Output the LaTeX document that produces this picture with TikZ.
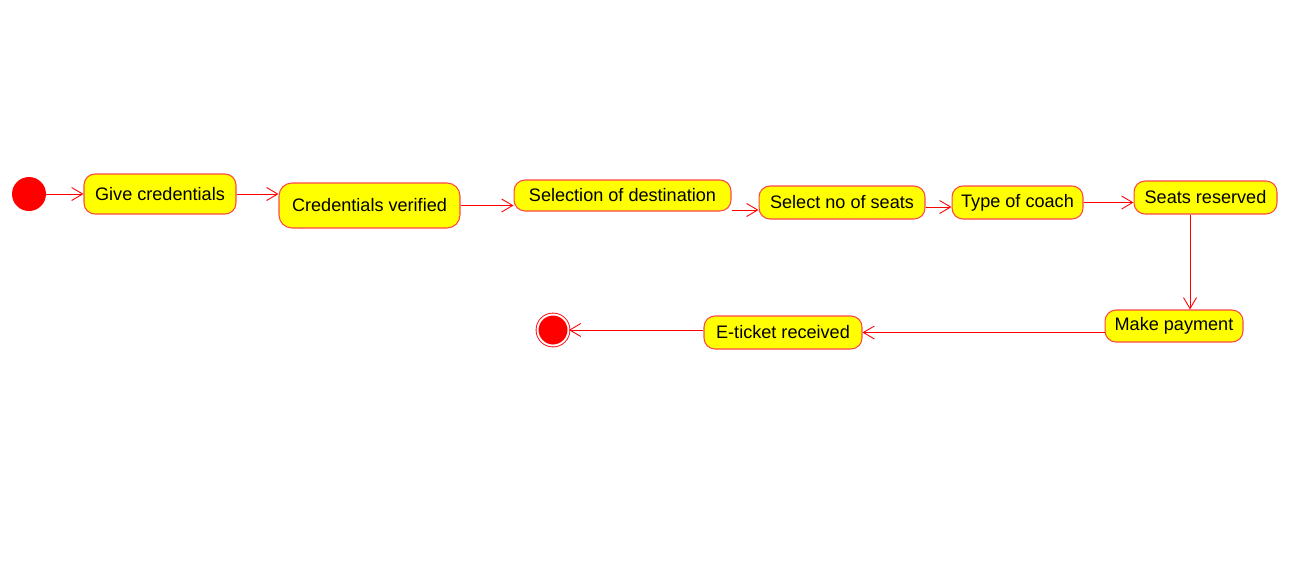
\documentclass[tikz,border=0pt]{standalone}
\usepackage{fontspec}
\setmainfont{Liberation Sans}
\usetikzlibrary{arrows.meta}
\definecolor{statefill}{RGB}{255,255,0}
\definecolor{stateline}{RGB}{255,70,70}
\tikzset{
  state/.style={draw=stateline, fill=statefill, line width=0.6pt, rounded corners=0.22cm,
    inner sep=0pt, font=\fontsize{10.3}{12}\selectfont},
  flow/.style={draw=red, line width=0.5pt, -{Straight Barb[length=0.22cm,width=0.26cm]}},
}
\begin{document}
\begin{tikzpicture}[x=0.02cm,y=-0.02cm]
\useasboundingbox (0,0) rectangle (1311,562);
% states
\node[circle, fill=red, minimum size=0.68cm, inner sep=0pt] (start) at (29,194) {};
\node[state, minimum width=3.04cm, minimum height=0.8cm] (give) at (160,194) {Give credentials};
\node[state, minimum width=3.62cm, minimum height=0.9cm, rounded corners=0.26cm] (verified) at (369.5,205.5) {Credentials verified};
\node[state, minimum width=4.34cm, minimum height=0.62cm] (dest) at (622.5,195.5) {Selection of destination};
\node[state, minimum width=3.32cm, minimum height=0.66cm] (seats) at (842,202.5) {Select no of seats};
\node[state, minimum width=2.62cm, minimum height=0.66cm] (coach) at (1017.5,202.5) {Type of coach};
\node[state, minimum width=2.86cm, minimum height=0.66cm] (reserved) at (1205.5,197.5) {Seats reserved};
\node[state, minimum width=2.76cm, minimum height=0.64cm] (payment) at (1174,326) {Make payment};
\node[state, minimum width=3.16cm, minimum height=0.66cm] (ticket) at (783,332.5) {E-ticket received};
\node[circle, draw=red, fill=red, double=white, double distance=1.1pt, line width=0.5pt,
  minimum size=0.62cm, inner sep=0pt] (stop) at (553,330) {};
% transitions
\coordinate (in1) at ([yshift=-0.15cm]seats.west);
\coordinate (in2) at ([yshift=-0.09cm]coach.west);
\coordinate (out1) at ([xshift=-0.31cm]reserved.south);
\draw[flow] (start) -- (give);
\draw[flow] (give.east) -- (give.east -| verified.west);
\draw[flow] (verified.east) -- (verified.east -| dest.west);
\draw[flow] (dest.east |- in1) -- (in1);
\draw[flow] (seats.east |- in2) -- (in2);
\draw[flow] (coach.east) -- (coach.east -| reserved.west);
\draw[flow] (out1) -- (out1 |- payment.north);
\draw[flow] (payment.west |- ticket.east) -- (ticket.east);
\draw[flow] (ticket.west |- stop) -- (stop);
\end{tikzpicture}
\end{document}
